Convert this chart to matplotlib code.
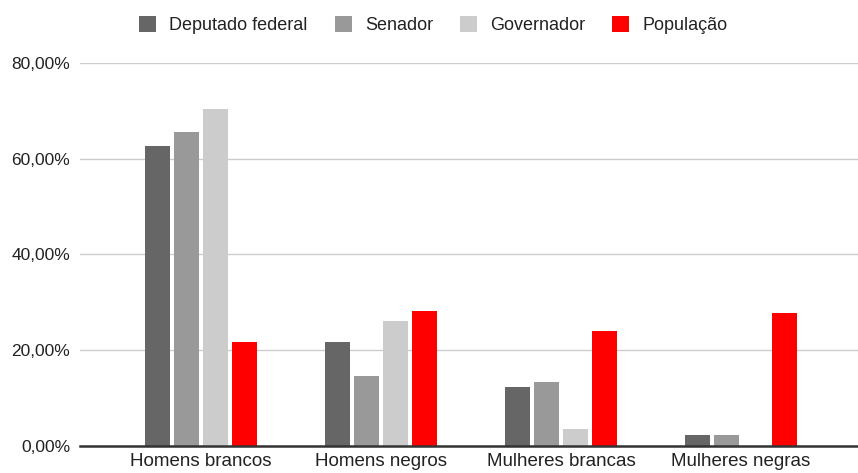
import numpy as np
from matplotlib import pyplot as plt
from matplotlib.ticker import FuncFormatter

plt.rcParams['font.family'] = ['Liberation Sans', 'DejaVu Sans']

categories = ['Homens brancos', 'Homens negros', 'Mulheres brancas', 'Mulheres negras']
series_names = ['Deputado federal', 'Senador', 'Governador', 'População']
deputado = [62.7, 21.7, 12.3, 2.3]
senador = [65.6, 14.6, 13.4, 2.3]
governador = [70.4, 26.1, 3.6, 0.0]
populacao = [21.8, 28.2, 24.0, 27.8]
colors = ['#666666', '#999999', '#cccccc', '#ff0000']


def pct(v, _):
    return f'{v:.2f}'.replace('.', ',') + '%'


def main():
    fig = plt.figure(figsize=(8.58, 4.73), dpi=100)
    ax = fig.add_axes([0.093, 0.057, 0.907, 0.81])

    x = np.arange(len(categories))
    width = 0.139
    step = 0.161
    all_series = [deputado, senador, governador, populacao]
    for i, (vals, name, col) in enumerate(zip(all_series, series_names, colors)):
        ax.bar(x + (i - 1.5) * step, vals, width=width, color=col, label=name, zorder=3)

    ax.set_xlim(-0.672, 3.65)
    ax.set_ylim(0, 80)
    ax.set_yticks([0, 20, 40, 60, 80])
    ax.yaxis.set_major_formatter(FuncFormatter(pct))
    ax.set_xticks(x)
    ax.set_xticklabels(categories)
    ax.tick_params(axis='y', length=0, pad=7, labelsize=12.5, labelcolor='#222222')
    ax.tick_params(axis='x', length=0, pad=5, labelsize=13.5, labelcolor='#222222')
    ax.grid(axis='y', color='#cccccc', linewidth=1, zorder=0)
    for s in ['top', 'right', 'left']:
        ax.spines[s].set_visible(False)
    ax.spines['bottom'].set_color('#333333')
    ax.spines['bottom'].set_linewidth(1.8)
    ax.spines['bottom'].set_zorder(4)

    fig.legend(loc='center', bbox_to_anchor=(0.505, 0.947), ncol=4, frameon=False,
               fontsize=13, handlelength=0.95, handleheight=0.95, handletextpad=0.72,
               columnspacing=1.5, labelcolor='#222222')

    fig.savefig('out.png', dpi=100)


if __name__ == '__main__':
    main()
